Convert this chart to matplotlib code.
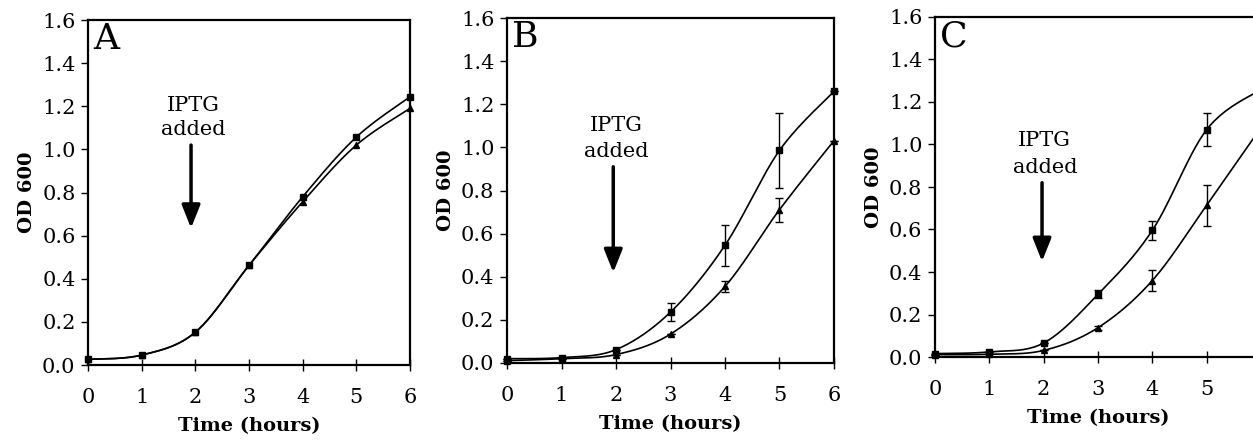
import numpy as np
from matplotlib import pyplot as plt

plt.rcParams["font.family"] = "serif"
plt.rcParams["font.serif"] = ["DejaVu Serif"]
plt.rcParams.update({"font.size": 14})

# time points (hours)
t = [0, 1, 2, 3, 4, 5, 6]

# panel A
a_sq = [0.026, 0.046, 0.152, 0.462, 0.78, 1.057, 1.244]
a_tri = [0.026, 0.046, 0.152, 0.462, 0.757, 1.02, 1.19]

# panel B
b_sq = [0.02, 0.025, 0.062, 0.236, 0.546, 0.986, 1.26]
b_sq_err = [0, 0, 0, 0.041, 0.096, 0.175, 0]
b_tri = [0.011, 0.02, 0.039, 0.134, 0.355, 0.711, 1.031]
b_tri_err = [0, 0, 0, 0, 0.027, 0.056, 0]

# panel C
c_sq = [0.016, 0.024, 0.066, 0.295, 0.596, 1.07, 1.26]
c_sq_err = [0, 0, 0, 0.018, 0.046, 0.078, 0]
c_tri = [0.011, 0.013, 0.031, 0.138, 0.36, 0.714, 1.08]
c_tri_err = [0, 0, 0, 0.01, 0.049, 0.096, 0]

panel_letters = ["A", "B", "C"]
# IPTG arrow: x, arrow top, arrow bottom, text y (IPTG / added)
arrows = [(1.92, 1.02, 0.635, 1.205, 1.09),
          (1.95, 0.91, 0.42, 1.10, 0.98),
          (1.97, 0.82, 0.45, 1.02, 0.89)]


def smooth(x, y, n=30):
    # Catmull-Rom style smoothing like spreadsheet "smoothed line"
    x = np.asarray(x, float)
    y = np.asarray(y, float)
    px = np.concatenate([[x[0]], x, [x[-1]]])
    py = np.concatenate([[y[0]], y, [y[-1]]])
    xs, ys = [], []
    s = np.linspace(0, 1, n)
    for i in range(1, len(px) - 2):
        p0 = np.array([px[i - 1], py[i - 1]])
        p1 = np.array([px[i], py[i]])
        p2 = np.array([px[i + 1], py[i + 1]])
        p3 = np.array([px[i + 2], py[i + 2]])
        c1 = p1 + (p2 - p0) / 6
        c2 = p2 - (p3 - p1) / 6
        b = ((1 - s) ** 3)[:, None] * p1 + (3 * (1 - s) ** 2 * s)[:, None] * c1 \
            + (3 * (1 - s) * s ** 2)[:, None] * c2 + (s ** 3)[:, None] * p2
        xs.append(b[:, 0])
        ys.append(b[:, 1])
    return np.concatenate(xs), np.concatenate(ys)


def panel(ax, sq, tri, sq_err, tri_err, letter, arr, last_label=True):
    for yv, err, mk in [(sq, sq_err, 's'), (tri, tri_err, '^')]:
        sx, sy = smooth(t, yv)
        ax.plot(sx, sy, color='k', lw=1.2, clip_on=False)
        ax.plot(t, yv, linestyle='none', marker=mk, ms=5, color='k', clip_on=False)
        if err is not None:
            ax.errorbar(t, yv, yerr=err, fmt='none', ecolor='k', elinewidth=1.0,
                        capsize=3, capthick=1.0, clip_on=False)
    ax.set_xlim(0, 6)
    ax.set_ylim(0, 1.6)
    ax.set_xticks(t)
    xl = [str(v) for v in t]
    if not last_label:
        xl[-1] = ""
    ax.set_xticklabels(xl)
    ax.set_yticks(np.arange(0, 1.61, 0.2))
    ax.set_yticklabels([f"{v:.1f}" for v in np.arange(0, 1.61, 0.2)])
    ax.tick_params(axis='x', direction='inout', length=9, width=1, pad=12, labelsize=15)
    ax.tick_params(axis='y', direction='out', length=5, width=1, pad=4, labelsize=15)
    for sp in ax.spines.values():
        sp.set_linewidth(1.6)
    ax.set_xlabel("Time (hours)", fontweight='bold', fontsize=14, labelpad=7)
    ax.set_ylabel("OD 600", fontweight='bold', fontsize=14, labelpad=4)
    ax.text(0.1, 1.59, letter, fontsize=26, va='top', ha='left')
    x, ytop, ybot, ty1, ty2 = arr
    ax.text(x + 0.05, ty1, "IPTG", ha='center', va='center', fontsize=15)
    ax.text(x + 0.05, ty2, "added", ha='center', va='center', fontsize=15)
    ax.annotate('', xy=(x, ybot), xytext=(x, ytop),
                arrowprops=dict(arrowstyle='-|>,head_width=0.4,head_length=1.0',
                                lw=2.5, color='k', shrinkA=0, shrinkB=0))


fig = plt.figure(figsize=(12.53, 4.40), dpi=100)
W, H = 1253, 440
ax1 = fig.add_axes([88 / W, 1 - 365 / H, 322 / W, 345 / H])
ax2 = fig.add_axes([507 / W, 1 - 363 / H, 327 / W, 345 / H])
ax3 = fig.add_axes([935 / W, 1 - 357 / H, 326 / W, 340 / H])

panel(ax1, a_sq, a_tri, None, None, panel_letters[0], arrows[0])
panel(ax2, b_sq, b_tri, b_sq_err, b_tri_err, panel_letters[1], arrows[1])
panel(ax3, c_sq, c_tri, c_sq_err, c_tri_err, panel_letters[2], arrows[2], last_label=False)

plt.savefig("out.png", dpi=100)
